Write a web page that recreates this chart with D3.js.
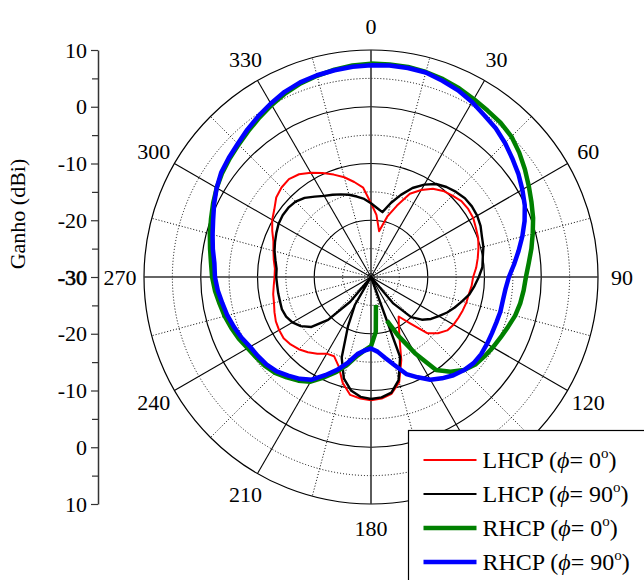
<!DOCTYPE html>
<html>
<head>
<meta charset="utf-8">
<script src="https://cdn.jsdelivr.net/npm/d3@7"></script>
<style>
  html, body { margin: 0; padding: 0; background: #fff; }
  svg { display: block; font-family: "Liberation Serif", "Times New Roman", serif; }
</style>
</head>
<body>
<svg width="644" height="580"></svg>
<script>
// sample angles (deg, clockwise from top)
const angles = [0, 5, 10, 15, 20, 25, 30, 35, 40, 45, 50, 55, 60, 65, 70, 75, 80, 85,
  90, 95, 100, 105, 110, 115, 120, 125, 130, 135, 140, 145, 150, 155, 160, 165, 170, 175,
  180, 185, 190, 195, 200, 205, 210, 215, 220, 225, 230, 235, 240, 245, 250, 255, 260, 265,
  270, 275, 280, 285, 290, 295, 300, 305, 310, 315, 320, 325, 330, 335, 340, 345, 350, 355];

// gain in dBi; values under -30 sit in the middle, null = nothing plotted
const lhcp0 = [-17.0, -19.0, -21.8, -19.0, -16.6, -13.8, -12.3, -11.0, -10.2, -9.7, -9.2, -9.1,
  -9.2, -9.6, -9.9, -10.4, -10.9, -11.4, -12.0, -12.2, -12.5, -12.6, -12.8, -13.0,
  -13.2, -13.6, -14.6, -16.0, -19.4, -21.5, -20.2, -18.1, -14.4, -10.8, -9.1, -8.5,
  -8.3, -8.5, -8.9, -10.7, -13.3, -14.6, -14.4, -13.5, -12.7, -12.0, -11.5, -11.2,
  -11.3, -11.5, -11.9, -12.3, -12.5, -12.8, -13.0, -13.0, -12.6, -12.2, -11.7, -10.8,
  -9.9, -9.2, -8.2, -7.7, -7.5, -7.9, -8.8, -9.8, -10.8, -11.8, -13.0, -14.2];

const lhcp90 = [-17.0, -17.8, -18.4, -16.5, -14.6, -12.7, -11.2, -10.0, -9.3, -8.8, -8.4, -8.3,
  -8.4, -8.7, -9.2, -9.5, -10.0, -10.3, -11.0, -11.7, -12.4, -13.4, -14.3, -15.2,
  -16.2, -17.1, -18.3, -20.0, -24.0, -40, -40, -40, -15.0, -11.2, -9.3, -8.7,
  -8.5, -8.8, -9.7, -11.5, -14.9, -20.4, -24.3, -40, -24.3, -19.3, -16.3, -14.9,
  -14.0, -13.5, -13.3, -13.4, -13.4, -13.4, -13.3, -13.3, -12.9, -12.4, -12.0, -11.6,
  -11.2, -11.0, -11.0, -11.2, -11.8, -12.7, -13.5, -14.0, -14.5, -15.0, -15.6, -16.2];

const rhcp0 = [7.6, 7.6, 7.6, 7.4, 7.1, 6.7, 6.2, 5.8, 5.5, 5.0, 4.1, 3.1,
  2.1, 1.2, 0.4, -0.5, -1.3, -2.1, -2.7, -3.0, -3.3, -3.7, -4.3, -4.8,
  -5.2, -5.6, -6.0, -6.8, -8.2, -10.0, -14.5, -18.5, -21.8, null, -25.0, -20.3,
  -17.8, -17.0, -15.9, -14.0, -12.2, -10.5, -8.7, -7.7, -6.9, -6.1, -5.6, -5.3,
  -4.9, -4.3, -3.8, -3.3, -2.9, -2.4, -2.0, -1.7, -1.2, -0.6, 0.0, 0.7,
  1.4, 2.0, 2.5, 3.0, 3.6, 4.3, 5.0, 5.7, 6.3, 6.7, 7.1, 7.4];

const rhcp90 = [7.3, 7.4, 7.4, 7.3, 6.8, 6.3, 5.6, 4.8, 4.2, 3.4, 2.5, 1.7,
  0.8, -0.1, -1.2, -2.4, -3.6, -4.7, -5.7, -6.2, -6.4, -6.4, -6.5, -6.5,
  -6.4, -6.3, -6.4, -6.8, -7.4, -8.2, -9.1, -10.5, -11.8, -13.9, -15.5, -16.8,
  -17.4, -17.0, -16.2, -14.4, -12.6, -10.9, -9.1, -8.1, -7.3, -6.5, -6.0, -5.7,
  -5.4, -4.8, -4.3, -3.8, -3.4, -2.9, -2.5, -2.3, -1.7, -1.1, -0.4, 0.5,
  1.4, 2.2, 2.7, 3.2, 3.9, 4.6, 5.3, 6.0, 6.5, 6.8, 7.0, 7.2];

const seriesNames = ["LHCP", "LHCP", "RHCP", "RHCP"];
const seriesPhi = ["0", "90", "0", "90"];
// 150 sits under the legend box in the original, so it is not drawn
const angleLabels = [0, 30, 60, 90, 120, 180, 210, 240, 270, 300, 330];
const gridAngles = [0, 15, 30, 45, 60, 75, 90, 105, 120, 135, 150, 165, 180, 195, 210, 225,
  240, 255, 270, 285, 300, 315, 330, 345];
const ringValues = [-25, -20, -15, -10, -5, 0, 5, 10];
const gainTicks = [-40, -30, -20, -10, 0, 10, 20, 30, 40];
const gainMinor = [-35, -25, -15, -5, 5, 15, 25, 35];

const layout = { cx: 371, cy: 277, R: 227, axisX: 98, labelR: 251, font: 22, legendFont: 24 };
const styles = [
  { color: "#ff0000", width: 2 },
  { color: "#000000", width: 2.4 },
  { color: "#008000", width: 4.5 },
  { color: "#0000ff", width: 4.5 }
];

const svg = d3.select("svg");
const { cx, cy, R } = layout;
const rad = (a) => (a * Math.PI) / 180;

const rScale = d3.scaleLinear().domain([-30, 10]).range([0, R]).clamp(true);

// ---- polar grid
const plot = svg.append("g").attr("transform", `translate(${cx},${cy})`);

plot.selectAll("circle.ring")
  .data(ringValues)
  .join("circle")
  .attr("class", "ring")
  .attr("r", (d) => rScale(d))
  .attr("fill", "none")
  .attr("stroke", "#000")
  .attr("stroke-width", (d) => (d % 10 === 0 ? 1.2 : 1))
  .attr("stroke-dasharray", (d) => (d % 10 === 0 ? null : "1,2"));

plot.selectAll("line.spoke")
  .data(gridAngles)
  .join("line")
  .attr("class", "spoke")
  .attr("x1", 0)
  .attr("y1", 0)
  .attr("x2", (a) => rScale(10) * Math.sin(rad(a)))
  .attr("y2", (a) => -rScale(10) * Math.cos(rad(a)))
  .attr("stroke", (a) => (a % 90 === 0 ? "#333" : "#000"))
  .attr("stroke-width", (a) => (a % 90 === 0 ? 1.6 : a % 30 === 0 ? 1.1 : 1))
  .attr("stroke-dasharray", (a) => (a % 30 === 0 ? null : "1,2"));

plot.selectAll("text.ang")
  .data(angleLabels)
  .join("text")
  .attr("class", "ang")
  .attr("x", (a) => layout.labelR * Math.sin(rad(a)))
  .attr("y", (a) => -layout.labelR * Math.cos(rad(a)))
  .attr("dy", "0.35em")
  .attr("text-anchor", "middle")
  .attr("font-size", layout.font)
  .attr("fill", "#000")
  .text((a) => a);

// ---- curves
const line = d3.lineRadial()
  .angle((d) => rad(d.a))
  .radius((d) => rScale(d.v))
  .defined((d) => d.v !== null);

[lhcp0, lhcp90, rhcp0, rhcp90].forEach((vals, i) => {
  const pts = angles.map((a, j) => ({ a, v: vals[j] }));
  pts.push({ a: 360, v: vals[0] });
  plot.append("path")
    .datum(pts)
    .attr("fill", "none")
    .attr("stroke", styles[i].color)
    .attr("stroke-width", styles[i].width)
    .attr("stroke-linejoin", "round")
    .attr("stroke-linecap", "butt")
    .attr("d", line);
});

// ---- left gain axis (mirrored through the centre)
const yScale = d3.scaleLinear().domain([-40, 40]).range([cy + R, cy - R]);

const axisG = svg.append("g")
  .attr("transform", `translate(${layout.axisX},0)`)
  .call(d3.axisLeft(yScale).tickValues(gainTicks)
    .tickFormat((d) => Math.abs(d) - 30)
    .tickSize(7).tickSizeOuter(0).tickPadding(4));
axisG.attr("font-family", null).attr("font-size", layout.font);
axisG.select(".domain").attr("stroke", "#333").attr("stroke-width", 1.5);
axisG.selectAll(".tick line").attr("stroke", "#333").attr("stroke-width", 1.2);
axisG.selectAll(".tick text").attr("fill", "#000");
axisG.selectAll(".tick text").filter((d) => d === 0)
  .attr("stroke", "#000").attr("stroke-width", 0.6);

svg.append("g")
  .attr("transform", `translate(${layout.axisX},0)`)
  .call(d3.axisLeft(yScale).tickValues(gainMinor).tickFormat("").tickSize(6).tickSizeOuter(0))
  .call((g) => g.select(".domain").remove())
  .selectAll(".tick line").attr("stroke", "#333").attr("stroke-width", 1.2);

svg.append("text")
  .attr("transform", "translate(25,214) rotate(-90)")
  .attr("text-anchor", "middle")
  .attr("font-size", layout.font)
  .attr("fill", "#000")
  .text("Ganho (dBi)");

// ---- legend
const legend = svg.append("g").attr("transform", "translate(408.5,430.5)");
legend.append("rect")
  .attr("width", 260).attr("height", 180)
  .attr("fill", "#fff").attr("stroke", "#000").attr("stroke-width", 1.2);

seriesNames.forEach((name, i) => {
  const y = 29.5 + i * 34;
  legend.append("line")
    .attr("x1", 15).attr("x2", 68).attr("y1", y).attr("y2", y)
    .attr("stroke", styles[i].color)
    .attr("stroke-width", i < 2 ? 2 : 4.5);
  const t = legend.append("text")
    .attr("x", 74).attr("y", y).attr("dy", "0.35em")
    .attr("font-size", layout.legendFont).attr("fill", "#000");
  t.append("tspan").text(`${name} (`);
  t.append("tspan").attr("font-style", "italic").text("\u03d5");
  t.append("tspan").text(`= ${seriesPhi[i]}`);
  t.append("tspan").attr("dy", -10).attr("font-size", 15).text("o");
  t.append("tspan").attr("dy", 10).text(")");
});
</script>
</body>
</html>
